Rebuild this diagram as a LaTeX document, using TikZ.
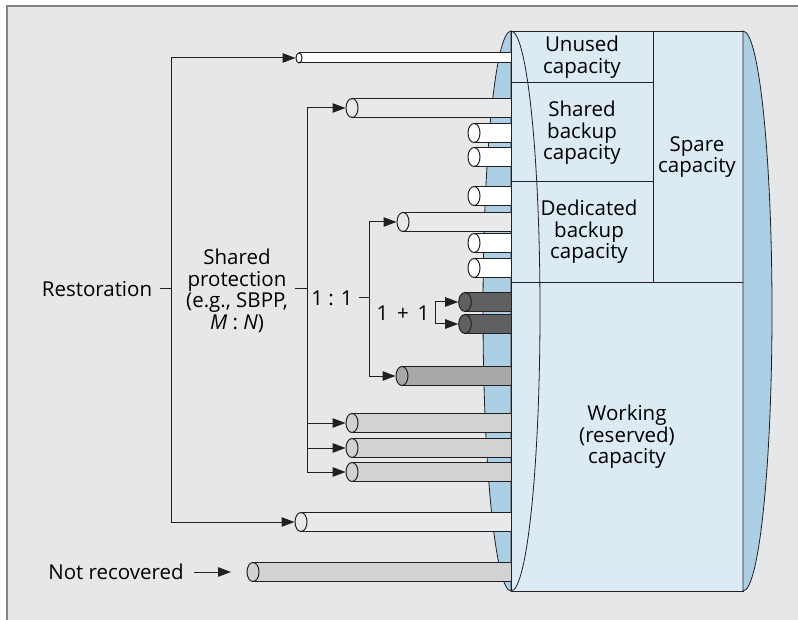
\documentclass[tikz,border=0pt]{standalone}
\usepackage{fontspec}
\setmainfont{Open Sans}
\usetikzlibrary{arrows.meta}

\definecolor{bgC}{HTML}{E6E7E8}
\definecolor{frameC}{HTML}{858585}
\definecolor{lineC}{HTML}{231F20}
\definecolor{blueLight}{HTML}{DCEAF4}
\definecolor{blueDark}{HTML}{ABD0E6}
\definecolor{pipeLight}{HTML}{E8E9EA}
\definecolor{pipeGray}{HTML}{D1D2D4}
\definecolor{pipeMid}{HTML}{A7A8AA}
\definecolor{pipeDark}{HTML}{5F6062}

% one fibre: name, x of the end cap, y, radius, cap half-width, fill
\newcommand\cablepipe[6]{%
  \filldraw[pipe, fill=#6] (#2,#3-#4) rectangle (511,#3+#4);
  \filldraw[pipe, fill=#6] (#2,#3) ellipse[x radius=#5pt, y radius=#4pt];
  \coordinate (#1) at (#2-#5-0.5,#3);
}

\begin{document}
\begin{tikzpicture}[x=1pt, y=-1pt,
  pipe/.style={line width=1pt, draw=lineC},
  conn/.style={line width=1pt, draw=lineC},
  arr/.style={conn, -{Triangle[length=13pt,width=9.5pt]}},
  lbl/.style={font=\fontsize{20.5}{21.5}\selectfont, align=center, inner sep=0pt, text=black},
  thin/.style={line width=0.8pt, draw=lineC}]

\useasboundingbox (0,0) rectangle (798,620);
\fill[white] (0,0) rectangle (798,620);
\fill[bgC] (7,6) rectangle (798,620);
\draw[frameC, line width=2pt] (7,620) -- (7,6) -- (798,6);

% far half of the left end of the trunk
\filldraw[thin, fill=blueDark] (511,31) arc[start angle=90, end angle=270, x radius=28pt, y radius=280pt] -- cycle;

% fibres
\cablepipe{c1}{299}{58}{5}{3}{white}
\cablepipe{c2}{352}{108}{9.5}{6}{pipeLight}
\cablepipe{c3}{474}{133}{9.5}{6}{white}
\cablepipe{c4}{474}{157}{9.5}{6}{white}
\cablepipe{c5}{474}{196}{9.5}{6}{white}
\cablepipe{c6}{403}{222}{9.5}{6}{pipeLight}
\cablepipe{c7}{474}{243}{9.5}{6}{white}
\cablepipe{c8}{474}{268}{9.5}{6}{white}
\cablepipe{c9}{465}{302}{9.5}{6.3}{pipeDark}
\cablepipe{c10}{465}{324}{9.5}{6.3}{pipeDark}
\cablepipe{c11}{402}{376}{9.5}{6}{pipeMid}
\cablepipe{c12}{352}{423}{9.5}{6}{pipeGray}
\cablepipe{c13}{352}{448}{9.5}{6}{pipeGray}
\cablepipe{c14}{352}{472}{9.5}{6}{pipeGray}
\cablepipe{c15}{301}{522}{9.5}{6}{pipeLight}
\cablepipe{c16}{253}{572}{9.5}{6}{pipeGray}

% trunk body
\filldraw[thin, fill=blueLight] (511,31) rectangle (743,591);
\filldraw[thin, fill=blueDark] (743,31) arc[start angle=90, end angle=-90, x radius=29pt, y radius=280pt] -- cycle;
\draw[thin] (511,31) arc[start angle=90, end angle=-90, x radius=29pt, y radius=280pt];
\draw[thin] (511,82) -- (653,82);
\draw[thin] (511,181) -- (653,181);
\draw[thin] (653,31) -- (653,282);
\draw[thin] (511,282) -- (743,282);

% capacity labels
\node[lbl] (unused) at (582,57) {Unused\\capacity};
\node[lbl] (sharedb) at (582,133) {Shared\\backup\\capacity};
\node[lbl] (spare) at (697,157) {Spare\\capacity};
\node[lbl] (dedic) at (589,232) {Dedicated\\backup\\capacity};
\node[lbl] (work) at (627,437) {Working\\(reserved)\\capacity};

% recovery schemes
\node[lbl] (rest) at (97,289) {Restoration};
\node[lbl] (sprot) at (237,291) {Shared\\protection\\(e.g., SBPP,\\\textit{M} : \textit{N})};
\node[lbl] (oneone) at (332,298) {1 : 1};
\node[lbl] (oneplus) at (403,313) {1 \,+\, 1};
\node[lbl] (notrec) at (116,572) {Not recovered};

\coordinate (rbar) at (171,0);
\coordinate (sbar) at (307,0);
\coordinate (obar) at (369,0);
\coordinate (pbar) at (435,0);
\coordinate (nrend) at (231,572);

\draw[conn] ([xshift=8pt]rest.east) -- (rbar |- rest);
\draw[arr] (rbar |- rest) |- (c1);
\draw[arr] (rbar |- rest) |- (c15);

\draw[conn] ([xshift=7pt]sprot.east |- rest) -- (sbar |- rest);
\draw[arr] (sbar |- rest) |- (c2);
\draw[arr] (sbar |- rest) |- (c14);
\draw[arr] (sbar |- c12) -- (c12);
\draw[arr] (sbar |- c13) -- (c13);

\draw[conn] ([xshift=6pt]oneone.east) -- (obar |- oneone);
\draw[arr] (obar |- oneone) |- (c6);
\draw[arr] (obar |- oneone) |- (c11);

\draw[arr] (pbar |- oneplus) |- (c9);
\draw[arr] (pbar |- oneplus) |- (c10);

\draw[arr] ([xshift=10pt]notrec.east) -- (nrend);
\end{tikzpicture}
\end{document}
